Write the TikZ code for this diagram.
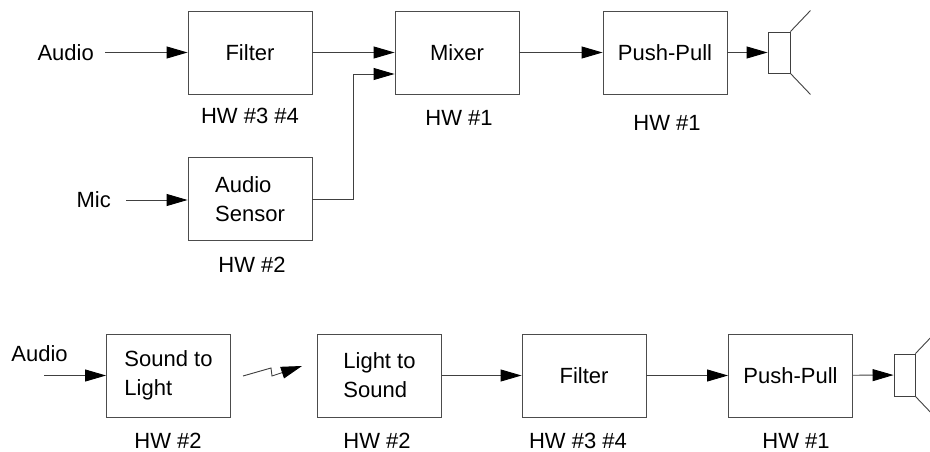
\documentclass[tikz,border=0pt]{standalone}
\usepackage{fontspec}
\setmainfont{Liberation Sans}
\usetikzlibrary{arrows.meta}

\begin{document}
\begin{tikzpicture}[x=1pt, y=-1pt,
  every node/.style={inner sep=0pt, font=\fontsize{22}{29}\selectfont},
  block/.style={draw=black!70, line width=0.9pt, minimum width=124pt, minimum height=83pt, align=left},
  sig/.style={draw=black!75, line width=0.9pt, -{Triangle[length=21pt,width=12pt,color=black,fill=black]}},
  cone/.style={draw=black!75, line width=0.9pt, minimum width=22pt, minimum height=41pt}]
\useasboundingbox (0,0) rectangle (930,452);

% upper chain
\node[block] (filterA) at (250,52.5) {Filter};
\node[block] (mixer) at (457,52.5) {Mixer};
\node[block] (pushA) at (665,52.5) {Push-Pull};
\node[block] (sensor) at (250,199) {Audio\\Sensor};
\node[cone] (spkA) at (779,52.5) {};
\node[anchor=east] (audioA) at (94,52.5) {Audio};
\node[anchor=east] (mic) at (111,200) {Mic};
\coordinate (join) at (353,74);

\draw[sig, shorten <=11pt] (audioA.east) -- (filterA);
\draw[sig, shorten <=15pt] (mic.east) -- (mic.east -| sensor.west);
\draw[sig] (filterA) -- (mixer);
\draw[sig] (sensor.east) -| (join) -- (mixer.west |- join);
\draw[sig] (mixer) -- (pushA);
\draw[sig] (pushA) -- (spkA);
\draw[black!75, line width=0.9pt] (spkA.north east) -- ++(20,-21);
\draw[black!75, line width=0.9pt] (spkA.south east) -- ++(20,21);

% lower chain, light link
\node[block] (soundLight) at (168.5,375.5) {Sound to\\Light};
\node[block] (lightSound) at (379.5,375.5) {Light to\\Sound};
\node[block] (filterB) at (584,375.5) {Filter};
\node[block] (pushB) at (790.5,375.5) {Push-Pull};
\node[cone, minimum width=21pt, minimum height=42pt] (spkB) at (904.5,375) {};
\node (audioB) at (39.5,354) {Audio};
\coordinate (audioIn) at (44,375.5);
\coordinate (flash) at (243,376);

\draw[sig] (audioIn) -- (soundLight);
\draw[sig] (flash) -- ++(28,-8) -- ++(1,8) -- ++(30,-10);
\draw[sig] (lightSound) -- (filterB);
\draw[sig] (filterB) -- (pushB);
\draw[sig] (pushB) -- (spkB);
\draw[black!75, line width=0.9pt] (spkB.north east) -- ++(20,-21);
\draw[black!75, line width=0.9pt] (spkB.south east) -- ++(20,21);

\foreach \n/\x/\y/\t in {hwFilterA/250/116/{HW \#3 \#4}, hwMixer/459/118/{HW \#1},
    hwPushA/667/122.5/{HW \#1}, hwSensor/252/265/{HW \#2},
    hwSoundLight/168/441/{HW \#2}, hwLightSound/377/441/{HW \#2},
    hwFilterB/578/441/{HW \#3 \#4}, hwPushB/796/441/{HW \#1}}
  \node (\n) at (\x,\y) {\t};

\end{tikzpicture}
\end{document}
